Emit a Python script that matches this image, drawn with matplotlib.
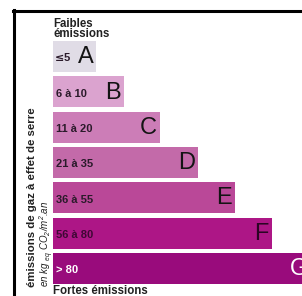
import matplotlib
matplotlib.use("Agg")
import matplotlib.pyplot as plt
from matplotlib.lines import Line2D

letters = ["A", "B", "C", "D", "E", "F", "G"]
ranges = ["\u2264 5", "6 \u00e0 10", "11 \u00e0 20", "21 \u00e0 35", "36 \u00e0 55", "56 \u00e0 80", "> 80"]
lengths = [43, 71, 107, 145, 182, 219, 258]
colors = ["#e0dce6", "#dba3cf", "#cc7db7", "#c36aa9", "#ba4898", "#ad1686", "#990b7c"]
letter_colors = ["#141414", "#141414", "#141414", "#141414", "#141414", "#2a0524", "#ffffff"]
range_colors = ["#2a1a2a", "#2a1a2a", "#2a1a2a", "#2a1a2a", "#2a1a2a", "#3f0835", "#ffffff"]

plt.rcParams["mathtext.fontset"] = "custom"
plt.rcParams["mathtext.it"] = "Liberation Sans:italic"
plt.rcParams["mathtext.rm"] = "Liberation Sans:italic"

W, H = 302, 296
fig = plt.figure(figsize=(W / 100, H / 100), dpi=100)
fig.patch.set_facecolor("white")

# axes: x from pixel 53 to 302, y from pixel 39 to 286
ax = fig.add_axes([53 / W, 1 - 286 / H, (W - 53) / W, (286 - 39) / H])
ax.set_xlim(0, W - 53)
ax.set_ylim(6.5, -0.5)
ax.axis("off")

ypos = list(range(len(letters)))
ax.barh(ypos, lengths, height=0.88, left=0, color=colors, edgecolor="none", clip_on=True)

lab_font = "Liberation Sans"
for i, (rg, L, ln) in enumerate(zip(ranges, letters, lengths)):
    if i == 0:
        ax.text(2, i + 0.05, "\u2264", fontsize=8, fontweight="bold", color=range_colors[i],
                va="center", ha="left", family=["DejaVu Sans"])
        ax.text(11, i + 0.05, "5", fontsize=8, fontweight="bold", color=range_colors[i],
                va="center", ha="left", family=lab_font)
        ax.text(ln - 2, i + 0.02, L, fontsize=17, color=letter_colors[i], va="center",
                ha="right", family=lab_font)
    else:
        ax.text(3, i + 0.05, rg, fontsize=8, fontweight="bold", color=range_colors[i],
                va="center", ha="left", family=lab_font)
        ax.text(ln - 3, i + 0.02, L, fontsize=17, color=letter_colors[i],
                va="center", ha="right", family=lab_font, clip_on=True)

# headings
fig.text(53 / W, 1 - 18 / H, "Faibles\n\u00e9missions", fontsize=8.3, fontweight="bold",
         va="top", ha="left", family=lab_font, linespacing=0.8, color="#222222")
fig.text(53 / W, 1 - 291 / H, "Fortes \u00e9missions", fontsize=8.3, fontweight="bold",
         va="center", ha="left", family=lab_font, color="#222222")

# vertical labels
fig.text(32 / W, 1 - 287 / H, "\u00e9missions de gaz \u00e0 effet de serre", fontsize=8.2,
         fontweight="bold", rotation=90, va="bottom", ha="center", family=lab_font,
         color="#222222")
fig.text(46.5 / W, 1 - 287 / H, r"en kg $_{eq}$ CO$_{2}$/m$^{2}$.an", fontsize=7.0,
         fontstyle="italic", rotation=90, va="bottom", ha="center", family=lab_font,
         color="#222222")

# frame lines
fig.add_artist(Line2D([14 / W, 14 / W], [0, 1 - 10 / H], color="black", lw=2.2,
                      transform=fig.transFigure))
fig.add_artist(Line2D([13 / W, 1], [1 - 11 / H, 1 - 11 / H], color="black", lw=2.2,
                      transform=fig.transFigure))

fig.savefig("out.png", dpi=100, facecolor="white")
